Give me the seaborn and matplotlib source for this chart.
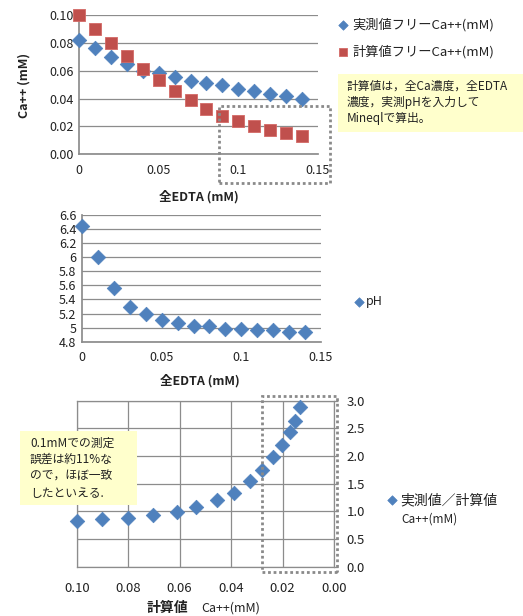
import matplotlib
matplotlib.use("Agg")
import matplotlib.pyplot as plt
import matplotlib.ticker as mticker
from matplotlib.patches import Rectangle
import pandas as pd
import seaborn as sns

# Total EDTA added (mM)
edta = [0.00, 0.01, 0.02, 0.03, 0.04, 0.05, 0.06, 0.07,
        0.08, 0.09, 0.10, 0.11, 0.12, 0.13, 0.14]
# Measured free Ca++ (mM)
ca_measured = [0.0823, 0.0761, 0.0699, 0.0648, 0.0600, 0.0586, 0.0553, 0.0526,
               0.0510, 0.0495, 0.0471, 0.0452, 0.0435, 0.0416, 0.0400]
# Free Ca++ calculated with Mineql (mM)
ca_calculated = [0.1000, 0.0900, 0.0800, 0.0705, 0.0612, 0.0535, 0.0456, 0.0388,
                 0.0325, 0.0278, 0.0238, 0.0202, 0.0172, 0.0153, 0.0131]
# Measured pH
ph = [6.44, 6.01, 5.57, 5.30, 5.19, 5.11, 5.06, 5.03,
      5.02, 4.98, 4.98, 4.97, 4.96, 4.94, 4.94]
# Measured / calculated free Ca++
ratio = [0.83, 0.855, 0.885, 0.93, 0.99, 1.08, 1.20, 1.34,
         1.54, 1.75, 1.98, 2.20, 2.44, 2.63, 2.89]

top_df = pd.DataFrame({"edta": edta, "measured": ca_measured, "calculated": ca_calculated})
ph_df = pd.DataFrame({"edta": edta, "pH": ph})
ratio_df = pd.DataFrame({"calc": ca_calculated, "ratio": ratio})

BLUE = "#4F81BD"
RED = "#C0504D"
GRID = "#8C8C8C"
TXT = "#222222"
NOTE_BG = "#FFFFCC"

sns.set_theme(style="white")
plt.rcParams["font.family"] = ["Noto Sans CJK JP", "DejaVu Sans"]
plt.rcParams["font.size"] = 9
plt.rcParams["text.color"] = TXT

W, H = 523, 616
fig = plt.figure(figsize=(W / 100, H / 100), dpi=100)
fig.patch.set_facecolor("white")


def px(x, y):
    """Figure fraction from pixel position (origin at top-left)."""
    return x / W, 1 - y / H


def box(x0, y0, x1, y1):
    return [x0 / W, 1 - y1 / H, (x1 - x0) / W, (y1 - y0) / H]


def style_axes(ax):
    ax.set_facecolor("white")
    for s in ax.spines.values():
        s.set_visible(False)
    ax.tick_params(axis="both", colors=GRID, labelcolor=TXT, labelsize=9,
                   length=3, width=0.9, direction="out", pad=4)


LEG = dict(frameon=False, borderaxespad=0, borderpad=0, handlelength=1.0,
           markerscale=0.65, bbox_transform=None)

# ---------- Free Ca++ vs total EDTA ----------
ax1 = fig.add_axes(box(79, 15, 318, 154.3))
style_axes(ax1)
ax1.set_xlim(0, 0.15)
ax1.set_ylim(0, 0.10)
ax1.set_yticks([0, 0.02, 0.04, 0.06, 0.08, 0.10])
ax1.yaxis.set_major_formatter(mticker.FormatStrFormatter("%.2f"))
ax1.set_xticks([0, 0.05, 0.1, 0.15])
ax1.set_xticklabels(["0", "0.05", "0.1", "0.15"])
ax1.grid(axis="y", color=GRID, lw=0.9)
ax1.spines["left"].set_visible(True)
ax1.spines["left"].set_color(GRID)
ax1.spines["bottom"].set_visible(True)
ax1.spines["bottom"].set_color(GRID)
ax1.tick_params(axis="y", length=0)
sns.scatterplot(data=top_df, x="edta", y="measured", ax=ax1, marker="D", s=55,
                color=BLUE, edgecolor=BLUE, linewidth=0.5, zorder=3,
                label="実測値フリーCa++(mM)", clip_on=False)
sns.scatterplot(data=top_df, x="edta", y="calculated", ax=ax1, marker="s", s=75,
                color=RED, edgecolor="#D46A66", linewidth=0.6, zorder=3,
                label="計算値フリーCa++(mM)", clip_on=False)
ax1.set_xlabel("")
ax1.set_ylabel("")
ax1.add_patch(Rectangle((0.088, -0.0206), 0.0696, 0.0553, fill=False,
                        ls=(0, (1, 1)), lw=2, ec="#8A8A8A", clip_on=False, zorder=4))
ax1.legend(loc="upper left", bbox_to_anchor=px(336.5, 18),
           bbox_transform=fig.transFigure, frameon=False, fontsize=9.5,
           borderaxespad=0, borderpad=0, handlelength=1.0, markerscale=0.65,
           handletextpad=0.2, labelspacing=1.05)
fig.text(*px(24, 85), "Ca++ (mM)", rotation=90, ha="center", va="center",
         fontsize=9, fontweight="bold")
fig.text(*px(199, 197), "全EDTA (mM)", ha="center", va="center",
         fontsize=9, fontweight="bold")

# note box beside the first chart
fig.patches.append(Rectangle(px(338, 132), (W - 338) / W, 58 / H,
                             transform=fig.transFigure, fc=NOTE_BG, ec="none"))
for i, line in enumerate(["計算値は，全Ca濃度，全EDTA", "濃度，実測pHを入力して", "Mineqlで算出。"]):
    fig.text(*px(347, 86 + 16.5 * i), line, ha="left", va="center", fontsize=8.5)

# ---------- pH vs total EDTA ----------
ax2 = fig.add_axes(box(82, 215, 321, 341.7))
style_axes(ax2)
ax2.set_xlim(0, 0.15)
ax2.set_ylim(4.8, 6.6)
ax2.set_yticks([4.8, 5.0, 5.2, 5.4, 5.6, 5.8, 6.0, 6.2, 6.4, 6.6])
ax2.set_yticklabels(["4.8", "5", "5.2", "5.4", "5.6", "5.8", "6", "6.2", "6.4", "6.6"])
ax2.set_xticks([0, 0.05, 0.1, 0.15])
ax2.set_xticklabels(["0", "0.05", "0.1", "0.15"])
ax2.grid(axis="y", color=GRID, lw=0.9)
ax2.spines["left"].set_visible(True)
ax2.spines["left"].set_color(GRID)
ax2.spines["bottom"].set_visible(True)
ax2.spines["bottom"].set_color(GRID)
ax2.tick_params(axis="y", length=0)
sns.scatterplot(data=ph_df, x="edta", y="pH", ax=ax2, marker="D", s=55,
                color=BLUE, edgecolor=BLUE, linewidth=0.5, zorder=3,
                label="pH", clip_on=False)
ax2.set_xlabel("")
ax2.set_ylabel("")
ax2.legend(loc="center left", bbox_to_anchor=px(352.5, 301.7),
           bbox_transform=fig.transFigure, frameon=False, fontsize=9,
           borderaxespad=0, borderpad=0, handlelength=1.0, markerscale=0.65,
           handletextpad=0.1)
fig.text(*px(200, 381), "全EDTA (mM)", ha="center", va="center",
         fontsize=9, fontweight="bold")

# ---------- measured / calculated vs calculated free Ca++ ----------
ax3 = fig.add_axes(box(76.7, 400.7, 334, 566.7))
style_axes(ax3)
ax3.set_xlim(0.10, 0.0)
ax3.set_ylim(0, 3.0)
ax3.set_xticks([0.10, 0.08, 0.06, 0.04, 0.02, 0.0])
ax3.xaxis.set_major_formatter(mticker.FormatStrFormatter("%.2f"))
ax3.set_yticks([0, 0.5, 1.0, 1.5, 2.0, 2.5, 3.0])
ax3.yaxis.set_major_formatter(mticker.FormatStrFormatter("%.1f"))
ax3.yaxis.tick_right()
ax3.grid(True, color=GRID, lw=0.9)
for s in ("left", "right", "bottom", "top"):
    ax3.spines[s].set_visible(True)
    ax3.spines[s].set_color(GRID)
    ax3.spines[s].set_linewidth(0.9)
ax3.tick_params(axis="x", pad=8, labelsize=9.5)
ax3.tick_params(axis="y", pad=6, labelsize=9.5)
sns.scatterplot(data=ratio_df, x="calc", y="ratio", ax=ax3, marker="D", s=55,
                color=BLUE, edgecolor=BLUE, linewidth=0.5, zorder=3,
                label="実測値／計算値", clip_on=False)
ax3.set_xlabel("")
ax3.set_ylabel("")
ax3.add_patch(Rectangle((-0.0013, -0.09), 0.0292, 3.17, fill=False,
                        ls=(0, (1, 1)), lw=2, ec="#8A8A8A", clip_on=False, zorder=4))
ax3.legend(loc="center left", bbox_to_anchor=px(386, 500),
           bbox_transform=fig.transFigure, frameon=False, fontsize=10,
           borderaxespad=0, borderpad=0, handlelength=0.8, markerscale=0.65,
           handletextpad=0.2)
fig.text(*px(401, 519), "Ca++(mM)", ha="left", va="center", fontsize=8.5)
fig.text(*px(147, 608), "計算値", ha="left", va="center", fontsize=10, fontweight="bold")
fig.text(*px(201, 608), "Ca++(mM)", ha="left", va="center", fontsize=9)

# note box on the third chart
fig.patches.append(Rectangle(px(20, 505), 117 / W, 74 / H,
                             transform=fig.transFigure, fc=NOTE_BG, ec="none", zorder=5))
for i, line in enumerate(["0.1mMでの測定", "誤差は約11%な", "ので，ほぼ一致", "したといえる."]):
    fig.text(*px(30, 443 + 16.7 * i), line, ha="left", va="center", fontsize=8.5, zorder=6)

fig.savefig("out.png", dpi=100, facecolor="white")
